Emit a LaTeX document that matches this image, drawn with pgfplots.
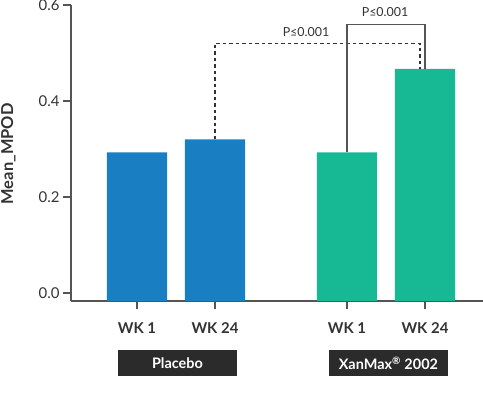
\documentclass[border=0pt]{standalone}
\usepackage{pgfplots}
\pgfplotsset{compat=1.18}
\usepackage{fontspec}
\setmainfont{Lato}
\definecolor{barblue}{HTML}{1A7FC2}
\definecolor{bargreen}{HTML}{17B994}
\definecolor{axgray}{HTML}{555555}
\definecolor{txtgray}{HTML}{333333}
\definecolor{boxdark}{HTML}{2B2B2B}
\begin{document}
\begin{tikzpicture}
\useasboundingbox (0,0) rectangle (483bp,396bp);
\begin{axis}[
  at={(71bp,95bp)}, anchor=south west,
  scale only axis, width=412bp, height=296bp,
  y coord trafo/.code={\pgfmathparse{#1+0.0167}},
  y coord inv trafo/.code={\pgfmathparse{#1-0.0167}},
  xmin=-0.846, xmax=4.436,
  ymin=-0.0167, ymax=0.6,
  clip=false,
  axis x line*=bottom, axis y line*=left,
  axis line style={axgray, line width=1.5bp},
  every tick/.style={axgray, line width=1.5bp},
  tick align=outside, major tick length=8bp,
  xtick={0,1,2.692,3.692},
  xticklabels={WK 1,WK 24,WK 1,WK 24},
  xticklabel style={font=\fontsize{15}{18}\selectfont\bfseries, text=txtgray, yshift=-10bp},
  ytick={0,0.2,0.4,0.6},
  yticklabel style={font=\fontsize{15}{18}\selectfont, text=txtgray,
    /pgf/number format/fixed, /pgf/number format/fixed zerofill,
    /pgf/number format/precision=1},
  /pgf/number format/assume math mode=true,
  ylabel={Mean\_MPOD},
  ylabel style={at={(axis description cs:-0.152,0.497)}, anchor=center,
    font=\fontsize{16.5}{19}\selectfont\bfseries, text=txtgray},
]
\addplot[ybar, bar width=0.77, bar shift=0pt, fill=barblue, draw=none]
  coordinates {(0,0.293) (1,0.320)};
\addplot[ybar, bar width=0.77, bar shift=0pt, fill=bargreen, draw=none]
  coordinates {(2.692,0.293) (3.692,0.467)};
% dashed bracket
\addplot[sharp plot, no marks, txtgray, line width=1.3bp, dash pattern=on 3.5bp off 3bp]
  coordinates {(1,0.320) (1,0.520) (3.628,0.520) (3.628,0.467)};
% solid bracket
\addplot[sharp plot, no marks, axgray, line width=1.5bp]
  coordinates {(2.692,0.293) (2.692,0.559) (3.692,0.559) (3.692,0.467)};
\node[text=txtgray, font=\fontsize{12.5}{15}\selectfont] at (axis cs:2.167,0.544) {P≤0.001};
\node[text=txtgray, font=\fontsize{12.5}{15}\selectfont] at (axis cs:3.18,0.585) {P≤0.001};
\node[fill=boxdark, text=white, minimum width=119bp, minimum height=26bp, inner sep=0pt,
  font=\fontsize{14.5}{17}\selectfont\bfseries] at (axis cs:0.519,-0.1458) {Placebo};
\node[fill=boxdark, text=white, minimum width=119bp, minimum height=26bp, inner sep=0pt,
  font=\fontsize{14.5}{17}\selectfont\bfseries] at (axis cs:3.224,-0.1458) {XanMax\textsuperscript{®} 2002};
\end{axis}
\end{tikzpicture}
\end{document}
